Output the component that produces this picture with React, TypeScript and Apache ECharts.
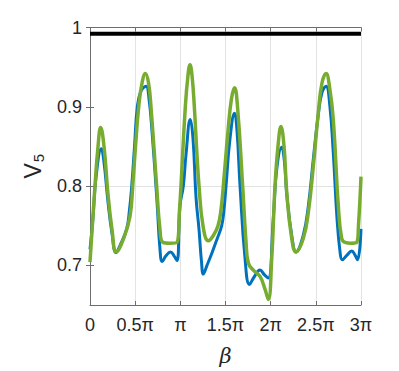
import React, { useEffect, useRef } from "react";
import * as echarts from "echarts";

// x in units of π
const greenX = [0, 0.055, 0.089, 0.118, 0.155, 0.199, 0.244, 0.291, 0.376, 0.443, 0.473, 0.504, 0.539, 0.576, 0.614, 0.648, 0.675, 0.738, 0.775, 0.808, 0.886, 0.963, 0.991, 1.007, 1.055, 1.085, 1.107, 1.129, 1.155, 1.181, 1.207, 1.251, 1.310, 1.362, 1.417, 1.45, 1.483, 1.528, 1.566, 1.6, 1.633, 1.69, 1.727, 1.753, 1.808, 1.882, 1.937, 1.974, 2.012, 2.048, 2.081, 2.114, 2.148, 2.178, 2.233, 2.281, 2.361, 2.417, 2.472, 2.527, 2.568, 2.613, 2.652, 2.693, 2.749, 2.786, 2.823, 2.889, 2.953, 2.972, 3.0];
const greenY = [0.704, 0.8, 0.85, 0.874, 0.85, 0.79, 0.745, 0.717, 0.735, 0.762, 0.8, 0.85, 0.9, 0.93, 0.942, 0.93, 0.9, 0.8, 0.745, 0.729, 0.728, 0.729, 0.77, 0.8, 0.9, 0.94, 0.953, 0.94, 0.9, 0.846, 0.8, 0.75, 0.731, 0.737, 0.75, 0.77, 0.81, 0.87, 0.91, 0.924, 0.9, 0.8, 0.73, 0.703, 0.694, 0.686, 0.67, 0.657, 0.709, 0.8, 0.85, 0.875, 0.85, 0.792, 0.734, 0.717, 0.734, 0.767, 0.825, 0.892, 0.93, 0.942, 0.925, 0.884, 0.775, 0.734, 0.729, 0.728, 0.729, 0.75, 0.812];

const blueX = [0, 0.033, 0.066, 0.125, 0.155, 0.199, 0.244, 0.288, 0.332, 0.406, 0.437, 0.462, 0.493, 0.524, 0.565, 0.62, 0.653, 0.686, 0.742, 0.775, 0.8, 0.841, 0.891, 0.93, 0.963, 0.996, 1.033, 1.063, 1.11, 1.14, 1.174, 1.207, 1.234, 1.255, 1.295, 1.351, 1.406, 1.458, 1.483, 1.506, 1.55, 1.6, 1.627, 1.661, 1.716, 1.766, 1.815, 1.882, 1.932, 1.974, 2.029, 2.067, 2.122, 2.153, 2.178, 2.233, 2.281, 2.361, 2.417, 2.472, 2.527, 2.568, 2.613, 2.652, 2.693, 2.734, 2.768, 2.793, 2.845, 2.897, 2.934, 2.962, 3.0];
const blueY = [0.72, 0.76, 0.81, 0.847, 0.83, 0.78, 0.74, 0.716, 0.725, 0.746, 0.77, 0.8, 0.85, 0.9, 0.92, 0.926, 0.91, 0.87, 0.78, 0.72, 0.705, 0.712, 0.717, 0.712, 0.706, 0.775, 0.8, 0.84, 0.884, 0.86, 0.785, 0.745, 0.705, 0.689, 0.7, 0.716, 0.733, 0.75, 0.77, 0.8, 0.86, 0.892, 0.87, 0.8, 0.709, 0.676, 0.685, 0.694, 0.688, 0.684, 0.759, 0.821, 0.849, 0.83, 0.79, 0.738, 0.717, 0.738, 0.775, 0.834, 0.89, 0.918, 0.926, 0.905, 0.842, 0.76, 0.717, 0.707, 0.713, 0.718, 0.713, 0.707, 0.746];

const refX = [0, 3];
const refY = [0.992, 0.992];

const xTickLabels = ["0", "0.5π", "π", "1.5π", "2π", "2.5π", "3π"];
const yTickValues = [0.7, 0.8, 0.9, 1];

const TEXT = "#262626";
const AXIS = "#6e6e6e";
const GRIDC = "#e3e3e3";
const FONT = "'Liberation Sans', Arial, Helvetica, sans-serif";

export default function App() {
  const ref = useRef<HTMLDivElement>(null);
  useEffect(() => {
    document.body.style.margin = "0";
    const chart = echarts.init(ref.current!, null, { renderer: "svg" });
    const pair = (xs: number[], ys: number[]) => xs.map((x, i) => [x, ys[i]]);
    const xCommon: any = {
      type: "value",
      min: 0,
      max: 3,
      interval: 0.5,
      axisLine: { show: true, lineStyle: { color: AXIS, width: 1 } },
      axisTick: { show: true, inside: true, length: 4, lineStyle: { color: AXIS } },
    };
    const yCommon: any = {
      type: "value",
      min: 0.65,
      max: 1,
      interval: 0.05,
      axisLine: { show: true, lineStyle: { color: AXIS, width: 1 } },
      axisTick: { show: true, inside: true, length: 4, lineStyle: { color: AXIS }, customValues: yTickValues },
    };
    chart.setOption({
      animation: false,
      grid: { left: 90, right: 38, top: 27.5, bottom: 64 },
      xAxis: [
        {
          ...xCommon,
          position: "bottom",
          name: "β",
          nameLocation: "middle",
          nameGap: 40,
          nameTextStyle: { color: TEXT, fontSize: 21, fontStyle: "italic", fontFamily: "'DejaVu Serif', serif" },
          axisLabel: {
            color: TEXT,
            fontSize: 18,
            fontFamily: FONT,
            margin: 11,
            formatter: (v: number) => xTickLabels[Math.round(v * 2)] ?? "",
          },
          splitLine: { show: true, lineStyle: { color: GRIDC, width: 1 } },
        },
        {
          ...xCommon,
          position: "top",
          axisLabel: { show: false },
          splitLine: { show: false },
        },
      ],
      yAxis: [
        {
          ...yCommon,
          position: "left",
          name: "V{s|5}",
          nameLocation: "middle",
          nameRotate: 90,
          nameGap: 42,
          nameTextStyle: {
            color: TEXT,
            fontSize: 23,
            fontFamily: FONT,
            rich: { s: { fontSize: 15, fontFamily: FONT, color: TEXT, verticalAlign: "bottom", padding: [12, 0, 0, 1] } },
          },
          axisLabel: {
            color: TEXT,
            fontSize: 18,
            fontFamily: FONT,
            margin: 8,
            formatter: (v: number) => {
              const k = Math.round(v * 100);
              if (k % 10 !== 0) return "";
              return k === 100 ? "1" : (k / 100).toFixed(1);
            },
          },
          splitLine: { show: true, lineStyle: { color: ["transparent", GRIDC], width: 1 } },
        },
        {
          ...yCommon,
          position: "right",
          axisLabel: { show: false },
          splitLine: { show: false },
        },
      ],
      series: [
        {
          type: "line",
          data: pair(refX, refY),
          showSymbol: false,
          lineStyle: { color: "#000000", width: 4 },
          z: 3,
        },
        {
          type: "line",
          data: pair(blueX, blueY),
          showSymbol: false,
          smooth: 0.45,
          lineStyle: { color: "#0072BD", width: 3 },
          z: 4,
        },
        {
          type: "line",
          data: pair(greenX, greenY),
          showSymbol: false,
          smooth: 0.45,
          lineStyle: { color: "#77AC30", width: 3.5 },
          z: 5,
        },
      ],
    });
    return () => chart.dispose();
  }, []);
  return <div ref={ref} style={{ width: 399, height: 371 }} />;
}
